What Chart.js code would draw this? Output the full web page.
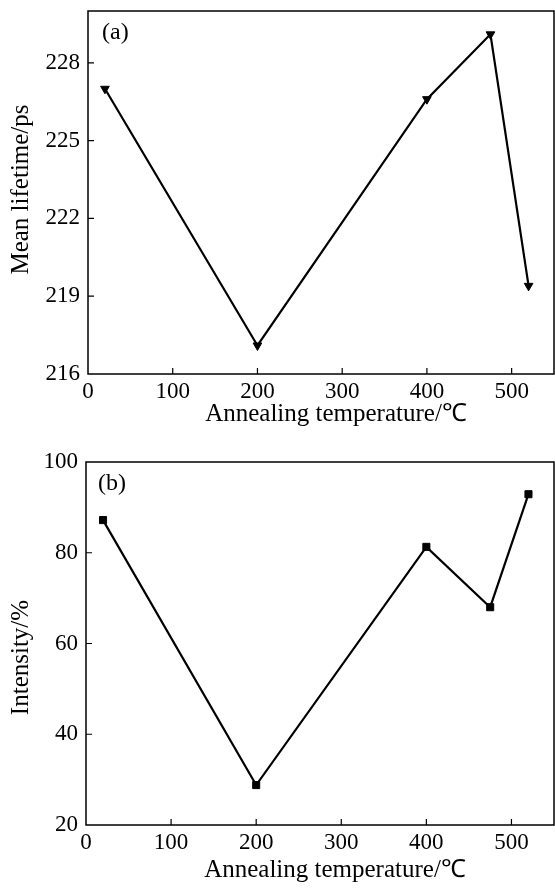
<!DOCTYPE html>
<html><head><meta charset="utf-8">
<script src="https://cdn.jsdelivr.net/npm/chart.js@4"></script>
<style>
html,body{margin:0;padding:0;background:#fff;width:555px;height:888px;overflow:hidden}
canvas{display:block}
</style></head>
<body>
<canvas id="ca" width="555" height="440"></canvas>
<canvas id="cb" width="555" height="448"></canvas>
<script>
// ---- data ----
const temperatures = [20, 200, 400, 475, 520];
const meanLifetime = [227.0, 217.1, 226.6, 229.1, 219.4];
const intensity = [87.2, 28.8, 81.3, 68.0, 92.9];
const xTickValues = [0, 100, 200, 300, 400, 500];
const lifetimeTicks = [216, 219, 222, 225, 228];
const intensityTicks = [20, 40, 60, 80, 100];
const xTitle = 'Annealing temperature/\u2103';
const lifetimeTitle = 'Mean lifetime/ps';
const intensityTitle = 'Intensity/%';
const panelLabels = ['(a)', '(b)'];

const FONT = "'Liberation Serif', 'Times New Roman', serif";

const framePlugin = {
  id: 'frame',
  afterDraw(chart, args, opts) {
    const {ctx, chartArea: a, scales} = chart;
    ctx.save();
    ctx.strokeStyle = '#000';
    ctx.lineWidth = 1.5;
    ctx.strokeRect(a.left, a.top, a.right - a.left, a.bottom - a.top);
    ctx.lineWidth = 1.2;
    ctx.beginPath();
    scales.x.ticks.forEach(t => {
      const px = scales.x.getPixelForValue(t.value);
      if (px > a.left + 1 && px < a.right - 1) {
        ctx.moveTo(px, a.bottom); ctx.lineTo(px, a.bottom - 6);
      }
    });
    scales.y.ticks.forEach(t => {
      const py = scales.y.getPixelForValue(t.value);
      if (py > a.top + 1 && py < a.bottom - 1) {
        ctx.moveTo(a.left, py); ctx.lineTo(a.left + 6, py);
      }
    });
    ctx.stroke();
    ctx.fillStyle = '#000';
    // panel label
    ctx.font = '24px ' + FONT;
    ctx.textBaseline = 'alphabetic';
    ctx.textAlign = 'left';
    ctx.fillText(opts.label, a.left + opts.dx, a.top + opts.dy);
    // x-axis title
    ctx.font = '25px ' + FONT;
    ctx.textAlign = 'center';
    ctx.fillText(opts.xTitle, (a.left + a.right) / 2 + opts.xtShift, opts.xtBase);
    // y-axis title (rotated)
    ctx.textBaseline = 'middle';
    ctx.translate(opts.ytX, (a.top + a.bottom) / 2 + opts.ytShift);
    ctx.rotate(-Math.PI / 2);
    ctx.fillText(opts.yTitle, 0, 0);
    ctx.restore();
  }
};

function makeChart(id, values, yTicks, yMin, yMax, yTitle, marker, cfg) {
  return new Chart(document.getElementById(id), {
    type: 'line',
    data: {
      datasets: [{
        data: temperatures.map((t, i) => ({x: t, y: values[i]})),
        borderColor: '#000',
        backgroundColor: '#000',
        borderWidth: 2.2,
        pointStyle: marker.style,
        pointRotation: marker.rotation,
        pointRadius: marker.radius,
        pointBorderWidth: 1,
        pointBackgroundColor: '#000',
        pointBorderColor: '#000',
        tension: 0
      }]
    },
    options: {
      responsive: false,
      animation: false,
      events: [],
      layout: {autoPadding: false, padding: {top: cfg.top, right: 1, left: 0, bottom: 0}},
      plugins: {
        legend: {display: false},
        tooltip: {enabled: false},
        frame: {label: cfg.label, dx: cfg.dx, dy: cfg.dy, yTitle: yTitle, ytX: 21, ytShift: cfg.ytShift,
                xTitle: xTitle, xtShift: 15, xtBase: cfg.xtBase}
      },
      scales: {
        x: {
          type: 'linear',
          min: 0, max: 550,
          afterBuildTicks: s => { s.ticks = xTickValues.map(v => ({value: v})); },
          afterFit: s => { s.height = cfg.xh; s.paddingLeft = 0; s.paddingRight = 0; s.paddingTop = 0; s.paddingBottom = 0; },
          grid: {display: false, drawTicks: false},
          border: {display: false},
          ticks: {color: '#000', padding: cfg.xpad, font: {family: FONT, size: 23}},
          title: {display: false}
        },
        y: {
          type: 'linear',
          min: yMin, max: yMax,
          afterBuildTicks: s => { s.ticks = yTicks.map(v => ({value: v})); },
          afterFit: s => { s.width = cfg.yw; s.paddingLeft = 0; s.paddingRight = 0; s.paddingTop = 0; s.paddingBottom = 0; },
          grid: {display: false, drawTicks: false},
          border: {display: false},
          ticks: {color: '#000', padding: 8, font: {family: FONT, size: 23}},
          title: {display: false}
        }
      }
    },
    plugins: [framePlugin]
  });
}

makeChart('ca', meanLifetime, lifetimeTicks, 216, 230, lifetimeTitle,
  {style: 'triangle', rotation: 180, radius: 5},
  {top: 11, xh: 66, yw: 88, xpad: 4, xtBase: 421, label: panelLabels[0], dx: 14, dy: 28, ytShift: -3});

makeChart('cb', intensity, intensityTicks, 20, 100, intensityTitle,
  {style: 'rect', rotation: 0, radius: 5},
  {top: 22, xh: 63, yw: 86, xpad: 4, xtBase: 437, label: panelLabels[1], dx: 12, dy: 28, ytShift: 14});
</script>
</body></html>
